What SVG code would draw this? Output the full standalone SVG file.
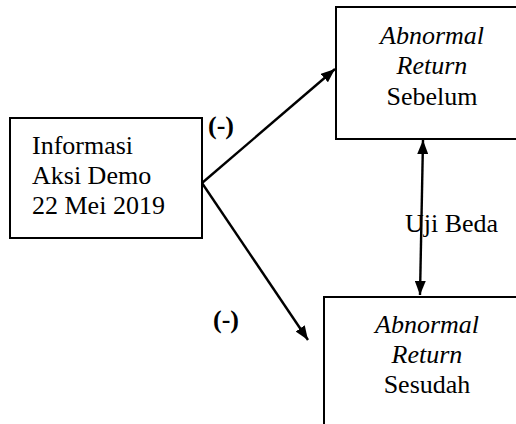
<svg xmlns="http://www.w3.org/2000/svg" width="516" height="424" viewBox="0 0 516 424">
<style>
.box{fill:#fff;stroke:#000;stroke-width:2}
.t{font-family:'Liberation Serif','Times New Roman','DejaVu Serif',serif;font-size:26px;fill:#000}
.c{text-anchor:middle}
.i{font-style:italic}
.b{font-weight:bold}
.ln{stroke:#000;stroke-width:2.4;fill:none}
</style>
<defs>
<marker id="ah" viewBox="0 0 14 11" refX="14" refY="5.5" markerWidth="14" markerHeight="11" markerUnits="userSpaceOnUse" orient="auto-start-reverse">
<path d="M0,0 L14,5.5 L0,11 Z" fill="#000"/>
</marker>
</defs>
<g id="node-info">
<rect class="box" x="10" y="118" width="192" height="120"/>
<text class="t" x="32" y="154">Informasi</text>
<text class="t" x="32" y="184">Aksi Demo</text>
<text class="t" x="32" y="214">22 Mei 2019</text>
</g>
<g id="node-sebelum">
<rect class="box" x="336" y="7" width="200" height="132"/>
<text class="t c i" x="432" y="44">Abnormal</text>
<text class="t c i" x="432" y="74">Return</text>
<text class="t c" x="432" y="105">Sebelum</text>
</g>
<g id="node-sesudah">
<rect class="box" x="324" y="297" width="220" height="150"/>
<text class="t c i" x="427" y="333">Abnormal</text>
<text class="t c i" x="427" y="363">Return</text>
<text class="t c" x="427" y="393">Sesudah</text>
</g>
<g id="connectors">
<line class="ln" x1="202" y1="183" x2="335" y2="69" marker-end="url(#ah)"/>
<line class="ln" x1="202" y1="183" x2="308" y2="340" marker-end="url(#ah)"/>
<line class="ln" x1="423" y1="140" x2="420" y2="295" marker-start="url(#ah)" marker-end="url(#ah)"/>
<text class="t b" x="208" y="134">(-)</text>
<text class="t b" x="213" y="328">(-)</text>
<text class="t" x="405" y="232">Uji Beda</text>
</g>
</svg>
